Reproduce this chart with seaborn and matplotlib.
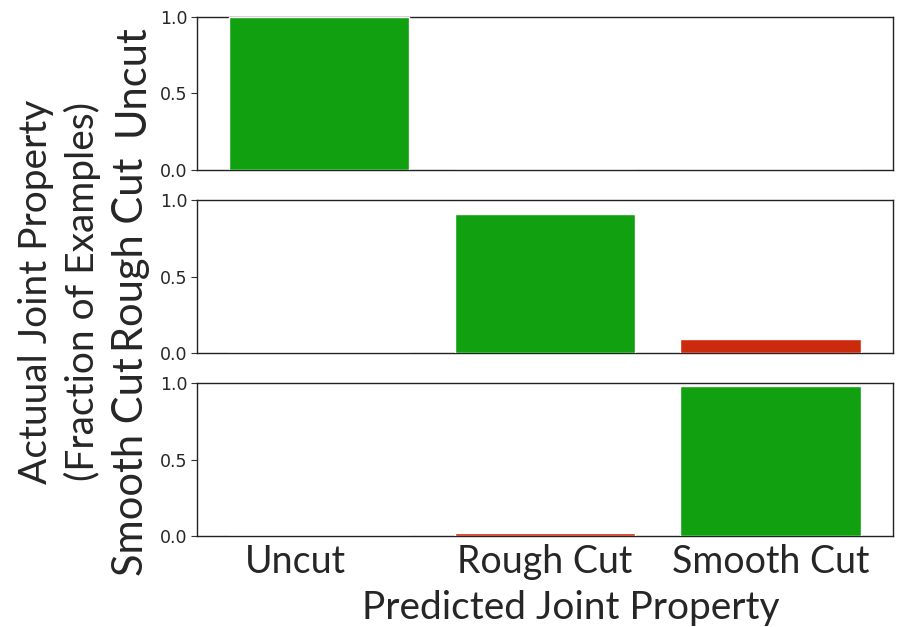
import matplotlib
matplotlib.use("Agg")
import matplotlib.pyplot as plt
import matplotlib.transforms as mtransforms
import seaborn as sns
import pandas as pd

# Predicted classes (x axis) and actual classes (one panel each)
predicted = ["Uncut", "Rough Cut", "Smooth Cut"]
actual = ["Uncut", "Rough Cut", "Smooth Cut"]

# Fraction of examples of each actual class predicted as each class
frac_uncut = [1.00, 0.00, 0.00]
frac_rough = [0.00, 0.91, 0.09]
frac_smooth = [0.00, 0.02, 0.98]
fractions = [frac_uncut, frac_rough, frac_smooth]

correct_color = "#10a010"
wrong_color = "#cc2a0c"
label_font = ["Lato", "DejaVu Sans"]

# vertical placement of each row label (axes fraction)
row_label_y = [0.585, 0.64, 0.454]

sns.set_theme(style="white")
plt.rcParams["font.family"] = ["DejaVu Sans"]

fig, axes = plt.subplots(3, 1, figsize=(9, 6.27), dpi=100, sharex=True)
fig.subplots_adjust(left=0.219, right=0.992, top=0.973, bottom=0.145, hspace=0.2)

for i, (ax, row_label, vals) in enumerate(zip(axes, actual, fractions)):
    df = pd.DataFrame({"pred": predicted, "frac": vals})
    palette = {p: (correct_color if j == i else wrong_color)
               for j, p in enumerate(predicted)}
    sns.barplot(data=df, x="pred", y="frac", hue="pred", palette=palette,
                order=predicted, hue_order=predicted, legend=False,
                saturation=1, width=0.8, ax=ax, zorder=3)
    ax.set_xlim(-0.54, 2.54)
    ax.set_ylim(0, 1.0)
    ax.set_yticks([0.0, 0.5, 1.0])
    ax.set_yticklabels(["0.0", "0.5", "1.0"], fontsize=12.5)
    ax.tick_params(axis="y", length=4, width=0.8, color="#333333", left=True, pad=3)
    ax.tick_params(axis="x", length=0, pad=6)
    ax.set_ylabel(row_label, fontsize=30, family=label_font)
    ax.yaxis.set_label_coords(-0.0675, row_label_y[i])
    ax.set_xlabel("")
    for sp in ax.spines.values():
        sp.set_visible(True)
        sp.set_color("#222222")
        sp.set_linewidth(1.0)
        sp.set_zorder(2)

for lbl in axes[-1].get_xticklabels():
    lbl.set_fontsize(27)
    lbl.set_family(label_font)
# the first category name sits a little left of its bar
first = axes[-1].get_xticklabels()[0]
first.set_transform(first.get_transform() +
                    mtransforms.ScaledTranslation(-0.24, 0, fig.dpi_scale_trans))

axes[-1].set_xlabel("Predicted Joint Property", fontsize=28, family=label_font)
axes[-1].xaxis.set_label_coords(0.537, -0.35)

fig.text(0.066, 0.535, "Actuual Joint Property\n(Fraction of Examples)",
         rotation=90, ha="center", va="center", fontsize=28,
         family=label_font, linespacing=1.3, multialignment="center")

fig.savefig("out.png", dpi=100, facecolor="white")
